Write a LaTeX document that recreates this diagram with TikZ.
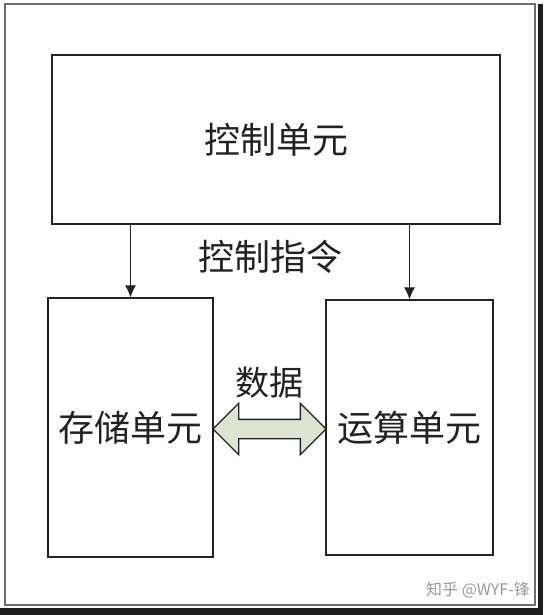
\documentclass[tikz,border=0pt]{standalone}
\usepackage{fontspec}
\newfontfamily\cjk{Noto Sans CJK SC}
\usetikzlibrary{arrows.meta,shapes.arrows}

\definecolor{frame}{HTML}{6E6E6E}
\definecolor{ink}{HTML}{222222}
\definecolor{pale}{HTML}{DDE4D1}

\tikzset{
  unit/.style={draw=ink, line width=1.3pt, font=\cjk\fontsize{36}{40}\selectfont, text=ink},
  lbl/.style={font=\cjk\fontsize{36}{40}\selectfont, text=ink},
  cmd/.style={draw=ink, line width=1.1pt, -{Latex[length=12pt,width=11pt]}}
}

\begin{document}
\begin{tikzpicture}[x=1pt,y=-1pt]
  \useasboundingbox (0,0) rectangle (543,615);
  \fill[white] (0,0) rectangle (543,615);
  \fill[black!88] (538,4) rectangle (543,615);
  \fill[black!88] (0,608) rectangle (543,615);
  \draw[frame, line width=1.6pt] (5,4) rectangle (535,605);

  \node[unit, minimum width=448pt, minimum height=169pt] (ctrl) at (276,139.5) {控制单元};
  \node[unit, minimum width=165pt, minimum height=259pt] (store) at (130.5,427.5) {存储单元};
  \node[unit, minimum width=167pt, minimum height=255pt] (calc) at (409.5,427.5) {运算单元};

  \draw[cmd] (ctrl.south -| store.north) -- (store.north);
  \draw[cmd] (ctrl.south -| calc.north) -- (calc.north);
  \node[lbl] (order) at (270,257) {控制指令};

  \node[double arrow, draw=ink, line width=1.3pt, fill=pale, minimum height=113pt,
        inner sep=9pt, double arrow head extend=16pt] (flow) at (269.5,429) {};
  \node[lbl, font=\cjk\fontsize{34}{38}\selectfont] (data) at (269,383) {数据};

  \node[font=\cjk\fontsize{16}{18}\selectfont, text=black!40] (mark) at (478,590) {知乎 @WYF-锋};
\end{tikzpicture}
\end{document}
